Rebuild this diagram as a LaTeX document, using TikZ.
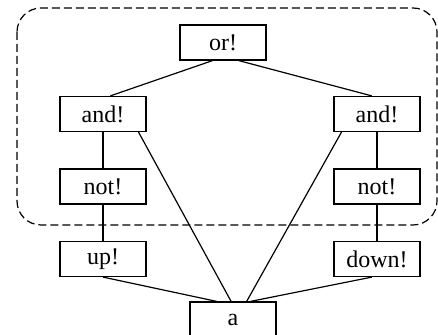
\documentclass[tikz,border=0pt]{standalone}
\usepackage{fontspec}
\setmainfont{Liberation Serif}
\usetikzlibrary{positioning}
\usetikzlibrary{calc}

\begin{document}
\begin{tikzpicture}[x=0.5pt,y=-0.5pt,
  gate/.style={draw, line width=0.6pt, inner sep=0pt, minimum width=43pt, minimum height=17.5pt, font=\fontsize{12}{14}\selectfont},
  every path/.style={line width=0.6pt}]
  \useasboundingbox (0,0) rectangle (438,335);
  \draw[dash pattern=on 4pt off 2pt, rounded corners=12pt] (17,8) rectangle (437,225);

  \node[gate] (or) at (223,42.5) {or!};
  \node[gate] (andl) at (103,114) {and!};
  \node[gate] (andr) at (377,114) {and!};
  \node[gate] (notl) at (103,186.5) {not!};
  \node[gate] (notr) at (377,186.5) {not!};
  \node[gate] (up) at (103,259) {up!};
  \node[gate] (down) at (377,259) {down!};
  \node[gate] (a) at (233,319.5) {a};

  \draw (or.-120) -- (andl.68);
  \draw (or.-49) -- (andr.106);
  \draw (andl.south) -- (notl.north);
  \draw (andr.south) -- (notr.north);
  \draw (notl.south) -- (up.north);
  \draw (notr.south) -- (down.north);
  \draw (andl.-27) -- (a.96);
  \draw (andr.-153) -- (a.53);
  \draw (up.south) -- (a.132);
  \draw (down.-106) -- (a.46);
\end{tikzpicture}
\end{document}
